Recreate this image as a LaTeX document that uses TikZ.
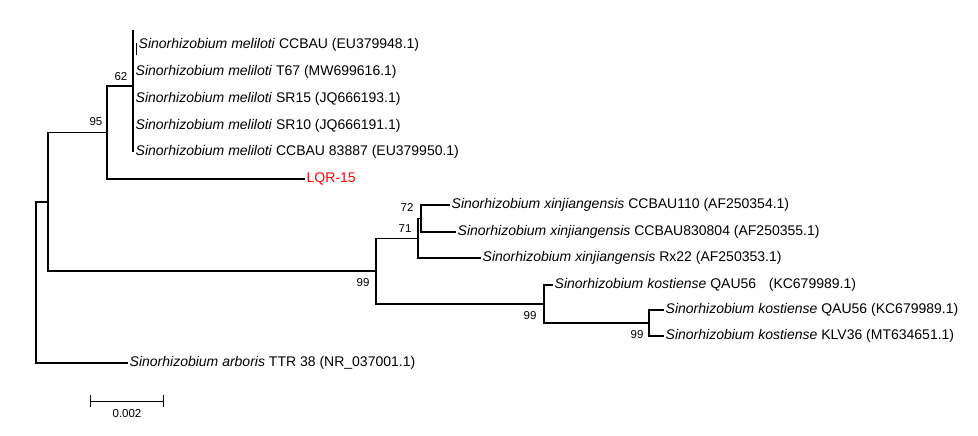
\documentclass[tikz,border=0pt]{standalone}
\usepackage{fontspec}
\setmainfont{Liberation Sans}
\usepackage{tikz}
\usepackage{xcolor}
\usetikzlibrary{arrows,positioning}

\begin{document}
\begin{tikzpicture}[x=1pt,y=-1pt,
  leaf/.style={anchor=west,inner sep=1.5pt,font=\fontsize{14}{16}\selectfont},
  boot/.style={inner sep=0.5pt,font=\fontsize{11.5}{13}\selectfont},
  br/.style={line width=1.7pt},
  bbr/.style={line width=2.3pt},
  tbr/.style={line width=1.2pt}]
\useasboundingbox (0,0) rectangle (978,436);
% inner nodes
\coordinate (root) at (36,282.5);
\coordinate (n48) at (48,202);
\coordinate (n95) at (107,132.5);
\coordinate (n62) at (133,86);
\coordinate (n62top) at (133,30);
\coordinate (n99a) at (376,271);
\coordinate (n71) at (418,238.5);
\coordinate (n72) at (421,218.5);
\coordinate (n99k) at (544,304);
\coordinate (n99c) at (649,323);
% leaves
\node[leaf] (m1) at (137,44.5) {\textit{Sinorhizobium meliloti} CCBAU (EU379948.1)};
\node[leaf] (m2) at (134,72) {\textit{Sinorhizobium meliloti} T67 (MW699616.1)};
\node[leaf] (m3) at (134,99) {\textit{Sinorhizobium meliloti} SR15 (JQ666193.1)};
\node[leaf] (m4) at (134,125.5) {\textit{Sinorhizobium meliloti} SR10 (JQ666191.1)};
\node[leaf] (m5) at (134,152) {\textit{Sinorhizobium meliloti} CCBAU 83887 (EU379950.1)};
\node[leaf,text=red] (lqr) at (305,179) {LQR-15};
\node[leaf] (x1) at (450,205) {\textit{Sinorhizobium xinjiangensis} CCBAU110 (AF250354.1)};
\node[leaf] (x2) at (456,232) {\textit{Sinorhizobium xinjiangensis} CCBAU830804 (AF250355.1)};
\node[leaf] (x3) at (481,258) {\textit{Sinorhizobium xinjiangensis} Rx22 (AF250353.1)};
\node[leaf] (k1) at (553,285) {\textit{Sinorhizobium kostiense} QAU56\hspace{0.9em}(KC679989.1)};
\node[leaf] (k2) at (664,310) {\textit{Sinorhizobium kostiense} QAU56 (KC679989.1)};
\node[leaf] (k3) at (664,336) {\textit{Sinorhizobium kostiense} KLV36 (MT634651.1)};
\node[leaf] (arb) at (128,363) {\textit{Sinorhizobium arboris} TTR 38 (NR\_037001.1)};
% branches
\draw[br] (root) |- (n48);
\draw[br] (root) |- (arb);
\draw[br] (n48) |- (n95);
\draw[br] (n48) |- (n99a);
\draw[br] (n95) |- (n62);
\draw[br] (n95) |- (lqr);
\draw[br] (n62top) -- (n62 |- m5);
\draw[thin] (136,43) -- (136,55);
\draw[br] (n99a) |- (n71);
\draw[br] (n99a) |- (n99k);
\draw[br] (n71) |- (n72);
\draw[br] (n71) |- (x3);
\draw[bbr] (n72) |- (x1);
\draw[br] (n72) |- (x2);
\draw[bbr] (n99k) |- (k1);
\draw[br] (n99k) |- (n99c);
\draw[tbr] (n99c) |- (k2);
\draw[tbr] (n99c) |- (k3);
% bootstrap values
\node[boot] (b62) at (121,77) {62};
\node[boot] (b95) at (96,122) {95};
\node[boot] (b72) at (407,207) {72};
\node[boot] (b71) at (405,229) {71};
\node[boot] (b99a) at (363,283) {99};
\node[boot] (b99k) at (530,316) {99};
\node[boot] (b99c) at (637,335) {99};
% scale bar
\coordinate (sbl) at (90,401);
\coordinate (sbr) at (163,401);
\draw[thin] (sbl) -- (sbr);
\draw[thin] ([yshift=6pt]sbl) -- ([yshift=-6pt]sbl);
\draw[thin] ([yshift=6pt]sbr) -- ([yshift=-6pt]sbr);
\node[boot] (sblabel) at (127,414) {0.002};
\end{tikzpicture}
\end{document}
